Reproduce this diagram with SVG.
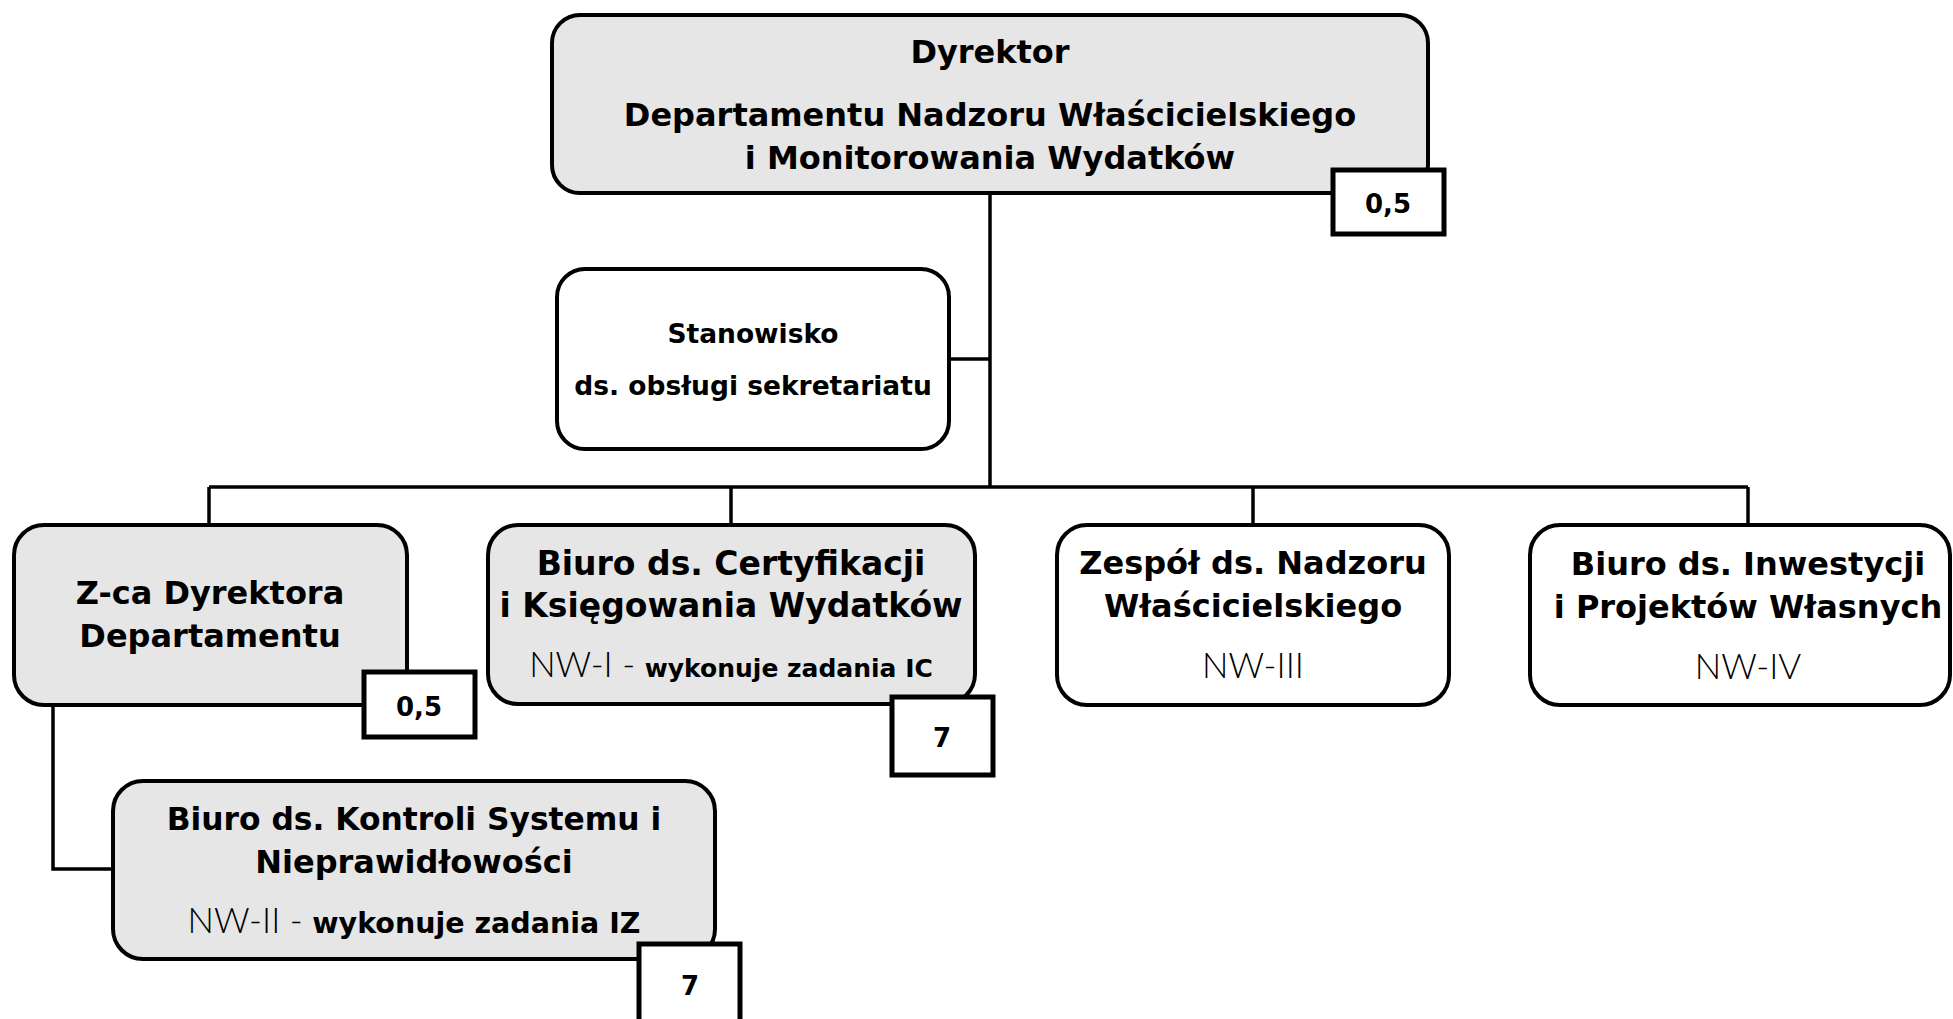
<svg xmlns="http://www.w3.org/2000/svg" width="1953" height="1019" viewBox="0 0 1953 1019">
<style>
  .node { stroke: #000; stroke-width: 4; }
  .gray { fill: #e6e6e6; }
  .white { fill: #fff; }
  .num { fill: #fff; stroke: #000; stroke-width: 5; }
  .conn { fill: none; stroke: #000; stroke-width: 3.5; }
  .b { font-family: "DejaVu Sans", "Liberation Sans", sans-serif; font-weight: bold; font-size: 32px; fill: #000; text-anchor: middle; }
  .bs { font-family: "DejaVu Sans", "Liberation Sans", sans-serif; font-weight: bold; font-size: 26.5px; fill: #000; text-anchor: middle; }
  .n { font-family: "DejaVu Sans", "Liberation Sans", sans-serif; font-weight: bold; font-size: 26px; fill: #000; text-anchor: middle; }
  .lt { font-family: "Lato", "Open Sans", "Liberation Sans", sans-serif; font-weight: 300; font-size: 35px; fill: #000; text-anchor: middle; }
  .bt { font-family: "DejaVu Sans", "Liberation Sans", sans-serif; font-weight: bold; font-size: 25px; }
</style>
<rect x="0" y="0" width="1953" height="1019" fill="#fff"/>

<g id="connectors">
  <line class="conn" x1="990" y1="194" x2="990" y2="487"/>
  <line class="conn" x1="949" y1="359" x2="990" y2="359"/>
  <line class="conn" x1="209" y1="487" x2="1748" y2="487"/>
  <line class="conn" x1="209" y1="487" x2="209" y2="525"/>
  <line class="conn" x1="731" y1="487" x2="731" y2="525"/>
  <line class="conn" x1="1253" y1="487" x2="1253" y2="525"/>
  <line class="conn" x1="1748" y1="487" x2="1748" y2="525"/>
  <polyline class="conn" points="53,705 53,869 113,869"/>
</g>

<g id="dyrektor">
  <rect class="node gray" x="552" y="15" width="876" height="178" rx="28"/>
  <text class="b" x="990" y="63">Dyrektor</text>
  <text class="b" x="990" y="126">Departamentu Nadzoru Właścicielskiego</text>
  <text class="b" x="990" y="169">i Monitorowania Wydatków</text>
  <rect class="num" x="1333" y="170" width="111" height="64"/>
  <text class="n" x="1388" y="213">0,5</text>
</g>

<g id="sekretariat">
  <rect class="node white" x="557" y="269" width="392" height="180" rx="28"/>
  <text class="bs" x="753" y="343">Stanowisko</text>
  <text class="bs" x="753" y="395">ds. obsługi sekretariatu</text>
</g>

<g id="zastepca">
  <rect class="node gray" x="14" y="525" width="393" height="180" rx="30"/>
  <text class="b" x="210" y="604">Z-ca Dyrektora</text>
  <text class="b" x="210" y="647">Departamentu</text>
  <rect class="num" x="364" y="672" width="111" height="65"/>
  <text class="n" x="419" y="716">0,5</text>
</g>

<g id="nw1">
  <rect class="node gray" x="488" y="525" width="487" height="179" rx="30"/>
  <text class="b" x="731" y="575" style="font-size:33px">Biuro ds. Certyfikacji</text>
  <text class="b" x="731" y="617" style="font-size:33px">i Księgowania Wydatków</text>
  <text class="lt" x="731" y="677"><tspan>NW-I - </tspan><tspan class="bt">wykonuje zadania IC</tspan></text>
  <rect class="num" x="892" y="697" width="101" height="78"/>
  <text class="n" x="942" y="747">7</text>
</g>

<g id="nw3">
  <rect class="node white" x="1057" y="525" width="392" height="180" rx="30"/>
  <text class="b" x="1253" y="574">Zespół ds. Nadzoru</text>
  <text class="b" x="1253" y="617">Właścicielskiego</text>
  <text class="lt" x="1253" y="678">NW-III</text>
</g>

<g id="nw4">
  <rect class="node white" x="1530" y="525" width="420" height="180" rx="30"/>
  <text class="b" x="1748" y="575">Biuro ds. Inwestycji</text>
  <text class="b" x="1748" y="618">i Projektów Własnych</text>
  <text class="lt" x="1748" y="679">NW-IV</text>
</g>

<g id="nw2">
  <rect class="node gray" x="113" y="781" width="602" height="178" rx="30"/>
  <text class="b" x="414" y="830" style="font-size:31.3px">Biuro ds. Kontroli Systemu i</text>
  <text class="b" x="414" y="873">Nieprawidłowości</text>
  <text class="lt" x="414" y="933"><tspan>NW-II - </tspan><tspan class="bt" style="font-size:28.5px">wykonuje zadania IZ</tspan></text>
  <rect class="num" x="639" y="944" width="101" height="100"/>
  <text class="n" x="690" y="995">7</text>
</g>
</svg>
